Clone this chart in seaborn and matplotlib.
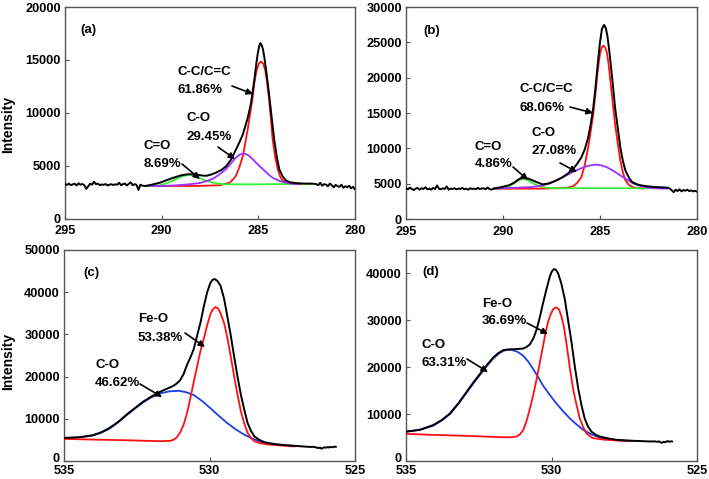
import matplotlib
matplotlib.use("Agg")
import matplotlib.pyplot as plt
from matplotlib.patches import FancyArrowPatch
from matplotlib.transforms import ScaledTranslation
import seaborn as sns

# ---------------- data (binding energy eV, intensity) ----------------
# Panel (a)  C1s
a_rawL_E = [295.0, 294.9, 294.8, 294.7, 294.6, 294.5, 294.4, 294.3, 294.2, 294.1, 294.0, 293.9, 293.8,
            293.7, 293.6, 293.5, 293.4, 293.3, 293.2, 293.1, 293.0, 292.9, 292.8, 292.7, 292.6, 292.5,
            292.4, 292.3, 292.2, 292.1, 292.0, 291.9, 291.8, 291.7, 291.6, 291.5, 291.4, 291.3, 291.2,
            291.1, 291.0]
a_rawL_I = [3250, 3180, 3300, 3150, 3230, 3280, 3120, 3330, 3200, 3260, 3150, 2800, 3050,
            3280, 3200, 3480, 3250, 3300, 3150, 3220, 3180, 3260, 3120, 3200, 3240, 3170,
            3230, 3190, 3380, 3150, 3250, 3300, 3120, 3280, 3420, 3150, 3250, 3180, 2700,
            3200, 3100]
a_env_E = [290.86, 290.50, 290.09, 289.75, 289.40, 289.00, 288.63, 288.35, 288.12, 287.90, 287.69,
           287.45, 287.17, 286.90, 286.66, 286.40, 286.15, 285.98, 285.80, 285.68, 285.55, 285.38,
           285.21, 285.10, 285.03, 284.95, 284.90, 284.84, 284.76, 284.69, 284.56, 284.43, 284.30,
           284.18, 284.05, 283.92, 283.75, 283.58, 283.35, 283.07, 282.60, 282.21]
a_env_I = [3075, 3200, 3385, 3620, 3850, 4080, 4190, 4180, 4130, 4060, 4040,
           4150, 4350, 4600, 4950, 5600, 6550, 7200, 7950, 8700, 9500, 10900,
           13070, 14700, 15600, 16350, 16580, 16450, 16000, 15250, 13500, 11520, 9400,
           7480, 5900, 4690, 4000, 3600, 3420, 3350, 3300, 3290]
a_rawR_E = [282.1, 282.0, 281.9, 281.8, 281.7, 281.6, 281.5, 281.4, 281.3, 281.2, 281.1, 281.0,
            280.9, 280.8, 280.7, 280.6, 280.5, 280.4, 280.3, 280.2, 280.1, 280.0]
a_rawR_I = [3280, 3250, 3150, 3380, 3100, 3250, 3200, 3050, 3300, 3150, 2950, 3180,
            3050, 3000, 3200, 2900, 3050, 2950, 3100, 2850, 3000, 2750]
a_cc_E = [290.86, 288.37, 287.00, 286.49, 286.30, 286.15, 285.98, 285.80, 285.68, 285.55, 285.42,
          285.29, 285.20, 285.09, 284.97, 284.86, 284.75, 284.64, 284.55, 284.46, 284.36, 284.26,
          284.13, 284.00, 283.88, 283.75, 283.50, 283.24, 282.72]
a_cc_I = [3075, 3075, 3140, 3385, 3700, 4070, 4850, 5930, 7100, 8420, 9950,
          11520, 12900, 14000, 14650, 14845, 14650, 14000, 12900, 11520, 9600, 7480,
          5800, 4690, 4000, 3600, 3350, 3290, 3230]
a_co_E = [290.86, 289.80, 289.23, 288.60, 288.03, 287.70, 287.35, 287.00, 286.66, 286.40, 286.15,
          285.95, 285.75, 285.55, 285.29, 285.05, 284.78, 284.50, 284.26, 283.90, 283.58, 283.20,
          282.89]
a_co_I = [3075, 3090, 3140, 3230, 3355, 3520, 3760, 4180, 4690, 5250, 5780,
          6050, 6150, 6020, 5620, 5150, 4690, 4200, 3850, 3550, 3385, 3280,
          3230]
a_cdo_E = [290.86, 290.40, 290.09, 289.75, 289.40, 289.00, 288.63, 288.30, 288.03, 287.70, 287.35,
           287.00, 286.66, 284.95, 282.21]
a_cdo_I = [3075, 3100, 3140, 3330, 3600, 3950, 4130, 4030, 3820, 3580, 3385,
           3280, 3230, 3230, 3290]

# Panel (b)  C1s
b_rawL_E = [295.0, 294.9, 294.8, 294.7, 294.6, 294.5, 294.4, 294.3, 294.2, 294.1, 294.0, 293.9, 293.8,
            293.7, 293.6, 293.5, 293.4, 293.3, 293.2, 293.1, 293.0, 292.9, 292.8, 292.7, 292.6, 292.5,
            292.4, 292.3, 292.2, 292.1, 292.0, 291.9, 291.8, 291.7, 291.6, 291.5, 291.4, 291.3, 291.2,
            291.1, 291.0, 290.9, 290.8, 290.7, 290.6]
b_rawL_I = [4350, 4200, 4450, 4250, 4100, 4300, 4400, 4150, 4350, 4250, 4500, 4200, 4300,
            4150, 4400, 4250, 4750, 4300, 4200, 4350, 4250, 4600, 4150, 4300, 4250, 4350,
            4200, 4300, 4250, 4400, 4200, 4300, 4150, 4350, 4250, 4300, 4200, 4400, 4250,
            4300, 4350, 4200, 4450, 4250, 4150]
b_env_E = [290.49, 290.10, 289.70, 289.45, 289.27, 289.10, 288.92, 288.70, 288.48, 288.20, 287.96,
           287.70, 287.44, 287.18, 286.92, 286.65, 286.39, 286.18, 285.96, 285.78, 285.61, 285.48,
           285.35, 285.24, 285.14, 285.06, 285.00, 284.90, 284.79, 284.70, 284.62, 284.53, 284.44,
           284.33, 284.22, 284.08, 283.95, 283.82, 283.69, 283.50, 283.34, 283.10, 282.91, 282.55,
           282.21, 281.52]
b_env_I = [4300, 4500, 4770, 5100, 5470, 5750, 5840, 5720, 5470, 5150, 4900,
           5000, 5230, 5550, 5930, 6450, 7090, 7800, 8720, 9900, 11510, 13400,
           15700, 18400, 21280, 23500, 25000, 26900, 27465, 27000, 25930, 24000, 21740,
           18800, 15700, 12800, 10120, 8200, 6860, 5800, 5230, 4920, 4770, 4620,
           4530, 4440]
b_rawR_E = [281.4, 281.3, 281.2, 281.1, 281.0, 280.9, 280.8, 280.7, 280.6, 280.5, 280.4, 280.3,
            280.2, 280.1, 280.0]
b_rawR_I = [4300, 4050, 3800, 4150, 3950, 4200, 3900, 4100, 4000, 4150, 3950, 4050,
            3900, 4000, 3850]
b_cc_E = [290.49, 287.96, 286.74, 286.39, 286.18, 285.96, 285.78, 285.61, 285.48, 285.35, 285.24,
          285.14, 285.06, 285.00, 284.91, 284.83, 284.74, 284.65, 284.56, 284.48, 284.35, 284.22,
          284.08, 283.95, 283.82, 283.69, 283.50, 283.26, 282.74]
b_cc_I = [4300, 4300, 4395, 4630, 5100, 5930, 7700, 10120, 12400, 14770, 17600,
          20350, 22200, 23370, 24300, 24535, 24300, 23600, 22000, 19880, 16600, 13370,
          10600, 8255, 6600, 5470, 4800, 4440, 4300]
b_co_E = [290.49, 289.50, 288.48, 288.00, 287.61, 287.20, 286.74, 286.40, 286.05, 285.65, 285.26,
          284.95, 284.65, 284.30, 283.95, 283.60, 283.26, 282.90, 282.56, 282.00, 281.52]
b_co_I = [4300, 4400, 4530, 4740, 5000, 5530, 6160, 6650, 7090, 7500, 7700,
          7600, 7330, 6800, 6160, 5550, 5000, 4650, 4440, 4330, 4300]
b_cdo_E = [290.49, 290.10, 289.70, 289.45, 289.27, 289.10, 288.92, 288.75, 288.57, 288.35, 288.14,
           287.80, 287.44, 281.52]
b_cdo_I = [4300, 4420, 4630, 5000, 5330, 5580, 5700, 5550, 5230, 4900, 4630,
           4450, 4350, 4350]

# Panel (c)  O1s
c_env_E = [535.00, 534.48, 534.02, 533.72, 533.44, 533.15, 532.86, 532.57, 532.28, 531.99, 531.70,
           531.47, 531.24, 531.12, 531.01, 530.89, 530.78, 530.66, 530.54, 530.43, 530.31, 530.20,
           530.08, 529.97, 529.90, 529.83, 529.73, 529.62, 529.50, 529.39, 529.27, 529.16, 529.04,
           528.92, 528.80, 528.69, 528.57, 528.46, 528.30, 528.11, 527.90, 527.65, 527.35, 527.07,
           526.61]
c_env_I = [5470, 5625, 6090, 6800, 7810, 9200, 10940, 12500, 14060, 15300, 16400,
           17100, 17810, 18400, 19140, 20600, 22660, 24500, 26560, 29600, 32800, 36500,
           40000, 42200, 42900, 43125, 42700, 41500, 38500, 34375, 29800, 25000, 20100,
           15625, 12000, 8980, 7100, 5860, 5050, 4450, 4150, 3910, 3720, 3590,
           3360]
c_raw_E = [526.55, 526.50, 526.45, 526.40, 526.35, 526.30, 526.25, 526.20, 526.15, 526.10, 526.05,
           526.00, 525.95, 525.90, 525.85, 525.80, 525.75, 525.70, 525.65]
c_raw_I = [3350, 3330, 3380, 3300, 3250, 3150, 3050, 3200, 2900, 3100, 3250,
           3150, 3300, 3200, 3350, 3250, 3300, 3400, 3350]
c_feo_E = [535.00, 534.02, 532.86, 531.70, 531.35, 531.23, 531.12, 531.00, 530.89, 530.77, 530.66,
           530.55, 530.43, 530.32, 530.20, 530.08, 529.97, 529.88, 529.79, 529.70, 529.62, 529.50,
           529.39, 529.27, 529.16, 529.04, 528.92, 528.80, 528.69, 528.57, 528.46, 528.25, 527.99,
           527.50, 527.07]
c_feo_I = [5235, 5080, 4920, 4690, 4770, 5050, 5625, 6900, 8590, 11400, 14840,
           18500, 22270, 25800, 28900, 32200, 34770, 36000, 36480, 36100, 35000, 32700,
           29300, 24800, 20310, 15800, 11720, 8800, 6640, 5400, 4690, 4200, 3910,
           3650, 3440]
c_co_E = [535.00, 534.50, 534.02, 533.72, 533.44, 533.15, 532.86, 532.57, 532.28, 532.00, 531.70,
          531.38, 531.06, 530.80, 530.54, 530.25, 529.97, 529.68, 529.39, 529.10, 528.81, 528.52,
          528.23, 527.94, 527.65, 527.36, 527.07]
c_co_I = [5390, 5600, 6015, 6700, 7660, 9100, 10780, 12400, 13900, 15100, 16015,
          16500, 16640, 16300, 15625, 14200, 12500, 10700, 8980, 7500, 6250, 5300,
          4530, 4150, 3910, 3720, 3590]

# Panel (d)  O1s
d_env_E = [535.00, 534.52, 534.06, 533.78, 533.49, 533.20, 532.92, 532.69, 532.46, 532.23, 532.00,
           531.83, 531.66, 531.49, 531.32, 531.15, 530.97, 530.86, 530.74, 530.62, 530.51, 530.40,
           530.29, 530.17, 530.06, 529.99, 529.92, 529.85, 529.77, 529.66, 529.54, 529.43, 529.31,
           529.20, 529.08, 528.97, 528.86, 528.75, 528.63, 528.48, 528.34, 528.05, 527.77, 527.48,
           527.20, 526.62]
d_env_I = [6275, 6630, 7680, 8700, 10140, 12300, 14710, 16700, 18570, 20400, 22090,
           23000, 23630, 23800, 23840, 23900, 23985, 24300, 24900, 26200, 28060, 30700,
           33680, 36700, 39300, 40400, 40920, 40800, 40000, 37800, 34390, 30000, 25250,
           20200, 15410, 11900, 9090, 7400, 6280, 5600, 5220, 4800, 4520, 4400,
           4310, 4170]
d_raw_E = [526.55, 526.50, 526.45, 526.40, 526.35, 526.30, 526.25, 526.20, 526.15, 526.10, 526.05,
           526.00, 525.95, 525.90, 525.85]
d_raw_I = [4180, 4150, 4200, 4130, 4100, 4200, 3950, 3900, 4100, 4000, 4150,
           4250, 4100, 4200, 4150]
d_feo_E = [535.00, 534.06, 532.92, 531.77, 531.40, 531.20, 531.08, 530.97, 530.86, 530.74, 530.62,
           530.51, 530.40, 530.29, 530.20, 530.11, 530.02, 529.94, 529.83, 529.74, 529.66, 529.57,
           529.49, 529.38, 529.26, 529.14, 529.03, 528.91, 528.80, 528.68, 528.57, 528.20, 527.77,
           527.20]
d_feo_I = [5780, 5570, 5360, 5080, 5050, 5220, 5700, 6630, 8500, 11190, 14300,
           17520, 21000, 24550, 27500, 29820, 31400, 32420, 32770, 32300, 30870, 28500,
           25250, 20300, 15410, 12000, 9090, 7200, 5920, 5300, 4870, 4550, 4380,
           4240]
d_co_E = [535.00, 534.52, 534.06, 533.78, 533.49, 533.20, 532.92, 532.69, 532.46, 532.23, 532.00,
          531.83, 531.66, 531.52, 531.37, 531.17, 530.97, 530.80, 530.63, 530.46, 530.29, 530.06,
          529.83, 529.60, 529.37, 529.14, 528.91, 528.63, 528.34, 528.05, 527.77, 527.48, 527.20]
d_co_I = [6205, 6700, 7540, 8600, 10000, 12200, 14570, 16500, 18360, 20200, 21880,
          22800, 23490, 23680, 23700, 23300, 22440, 21200, 19630, 17900, 16090, 14100,
          12250, 10600, 9090, 7800, 6630, 5700, 5000, 4650, 4450, 4330, 4240]

# labels
panel_tags = ["(a)", "(b)", "(c)", "(d)"]
a_notes = [("C-C/C=C", "61.86%"), ("C-O", "29.45%"), ("C=O", "8.69%")]
b_notes = [("C-C/C=C", "68.06%"), ("C-O", "27.08%"), ("C=O", "4.86%")]
c_notes = [("Fe-O", "53.38%"), ("C-O", "46.62%")]
d_notes = [("Fe-O", "36.69%"), ("C-O", "63.31%")]
c1s_xticks = [295, 290, 285, 280]
o1s_xticks = [535, 530, 525]

# ---------------- styling ----------------
sns.set_theme(style="white")
plt.rcParams["font.family"] = ["Liberation Sans", "DejaVu Sans"]
plt.rcParams["font.weight"] = "bold"

W, H = 709, 479
fig = plt.figure(figsize=(W / 100, H / 100), dpi=100)

BLACK, RED, PURPLE, GREEN, BLUE = "#000000", "#ff1010", "#9b30ff", "#33ee33", "#1a3fe6"
SPINE = "#555555"


def add_ax(l, t, r, b):
    return fig.add_axes([l / W, 1 - b / H, (r - l) / W, (b - t) / H])


def line(ax, x, y, color, lw, z):
    sns.lineplot(x=x, y=y, ax=ax, color=color, lw=lw, estimator=None, sort=False, zorder=z)


def style(ax, xlim, xticks, ylim, yticks, xpad):
    ax.set_xlim(*xlim)
    ax.set_ylim(*ylim)
    ax.set_xticks(xticks)
    ax.set_yticks(yticks)
    ax.set_xlabel("")
    ax.set_ylabel("")
    for s in ax.spines.values():
        s.set_color(SPINE)
        s.set_linewidth(1.0)
    ax.tick_params(direction="in", length=3, width=0.8, color=SPINE, labelsize=9.2,
                   labelcolor="black", left=True, bottom=True, top=False, right=False)
    ax.tick_params(axis="y", pad=3.0)
    ax.tick_params(axis="x", pad=xpad)
    ax.grid(False)


def lift_zero_label(ax, px):
    lbl = ax.get_yticklabels()[0]
    lbl.set_transform(lbl.get_transform() + ScaledTranslation(0, px / 100, fig.dpi_scale_trans))


def fig_text(x, y, s, **kw):
    fig.text(x / W, 1 - y / H, s, ha="left", va="center", fontsize=9.5,
             fontweight="bold", color="black", **kw)


def note(lines, x, y1, y2, tail, tip):
    fig_text(x, y1, lines[0])
    fig_text(x, y2, lines[1])
    arr = FancyArrowPatch((tail[0] / W, 1 - tail[1] / H), (tip[0] / W, 1 - tip[1] / H),
                          transform=fig.transFigure, arrowstyle="-|>", color="black",
                          lw=1.2, mutation_scale=9, shrinkA=0, shrinkB=0, zorder=10)
    fig.add_artist(arr)


# (a)
ax_a = add_ax(65, 7, 355, 218.5)
line(ax_a, a_cc_E, a_cc_I, RED, 1.3, 2)
line(ax_a, a_cdo_E, a_cdo_I, GREEN, 1.3, 3)
line(ax_a, a_co_E, a_co_I, PURPLE, 1.3, 4)
line(ax_a, a_rawL_E + a_env_E + a_rawR_E, a_rawL_I + a_env_I + a_rawR_I, BLACK, 1.4, 5)
style(ax_a, (295, 280), c1s_xticks, (0, 20000), range(0, 20001, 5000), 5.0)

# (b)
ax_b = add_ax(406, 7, 697, 219)
line(ax_b, b_cc_E, b_cc_I, RED, 1.3, 2)
line(ax_b, b_cdo_E, b_cdo_I, GREEN, 1.3, 3)
line(ax_b, b_co_E, b_co_I, PURPLE, 1.3, 4)
line(ax_b, b_rawL_E + b_env_E + b_rawR_E, b_rawL_I + b_env_I + b_rawR_I, BLACK, 1.4, 5)
style(ax_b, (295, 280), c1s_xticks, (0, 30000), range(0, 30001, 5000), 5.0)

# (c)
ax_c = add_ax(64, 250, 355, 461)
line(ax_c, c_co_E, c_co_I, BLUE, 1.3, 2)
line(ax_c, c_feo_E, c_feo_I, RED, 1.3, 3)
line(ax_c, c_env_E + c_raw_E, c_env_I + c_raw_I, BLACK, 1.4, 5)
style(ax_c, (535, 525), o1s_xticks, (0, 50000), range(0, 50001, 10000), 3.0)
lift_zero_label(ax_c, 3)

# (d)
ax_d = add_ax(406, 250, 697, 461)
line(ax_d, d_co_E, d_co_I, BLUE, 1.3, 2)
line(ax_d, d_feo_E, d_feo_I, RED, 1.3, 3)
line(ax_d, d_env_E + d_raw_E, d_env_I + d_raw_I, BLACK, 1.4, 5)
style(ax_d, (535, 525), o1s_xticks, (0, 45000), range(0, 40001, 10000), 3.0)
lift_zero_label(ax_d, 3)

# y labels
for yc in (124, 361):
    fig.text(8 / W, 1 - yc / H, "Intensity", rotation=90, ha="center", va="center",
             fontsize=10, fontweight="bold", color="black")

# panel tags
for tag, (x, y) in zip(panel_tags, [(80, 30), (423, 31), (83, 273), (422, 272)]):
    fig_text(x, y, tag)

# annotations
note(a_notes[0], 178, 72, 90, (232, 86), (253, 94))
note(a_notes[1], 187, 118, 137, (218, 147), (235, 159))
note(a_notes[2], 144, 146, 164, (182, 164), (200, 179))
note(b_notes[0], 520, 89, 108, (570, 107), (593, 113))
note(b_notes[1], 532, 133, 151, (560, 163), (577, 172))
note(b_notes[2], 475, 147, 164, (513, 167), (528, 180))
note(c_notes[0], 138, 319, 338, (185, 333), (205, 347))
note(c_notes[1], 95, 365, 383, (140, 384), (162, 397))
note(d_notes[0], 482, 304, 321, (527, 323), (548, 334))
note(d_notes[1], 422, 345, 363, (467, 359), (488, 372))

fig.savefig("out.png", dpi=100)
